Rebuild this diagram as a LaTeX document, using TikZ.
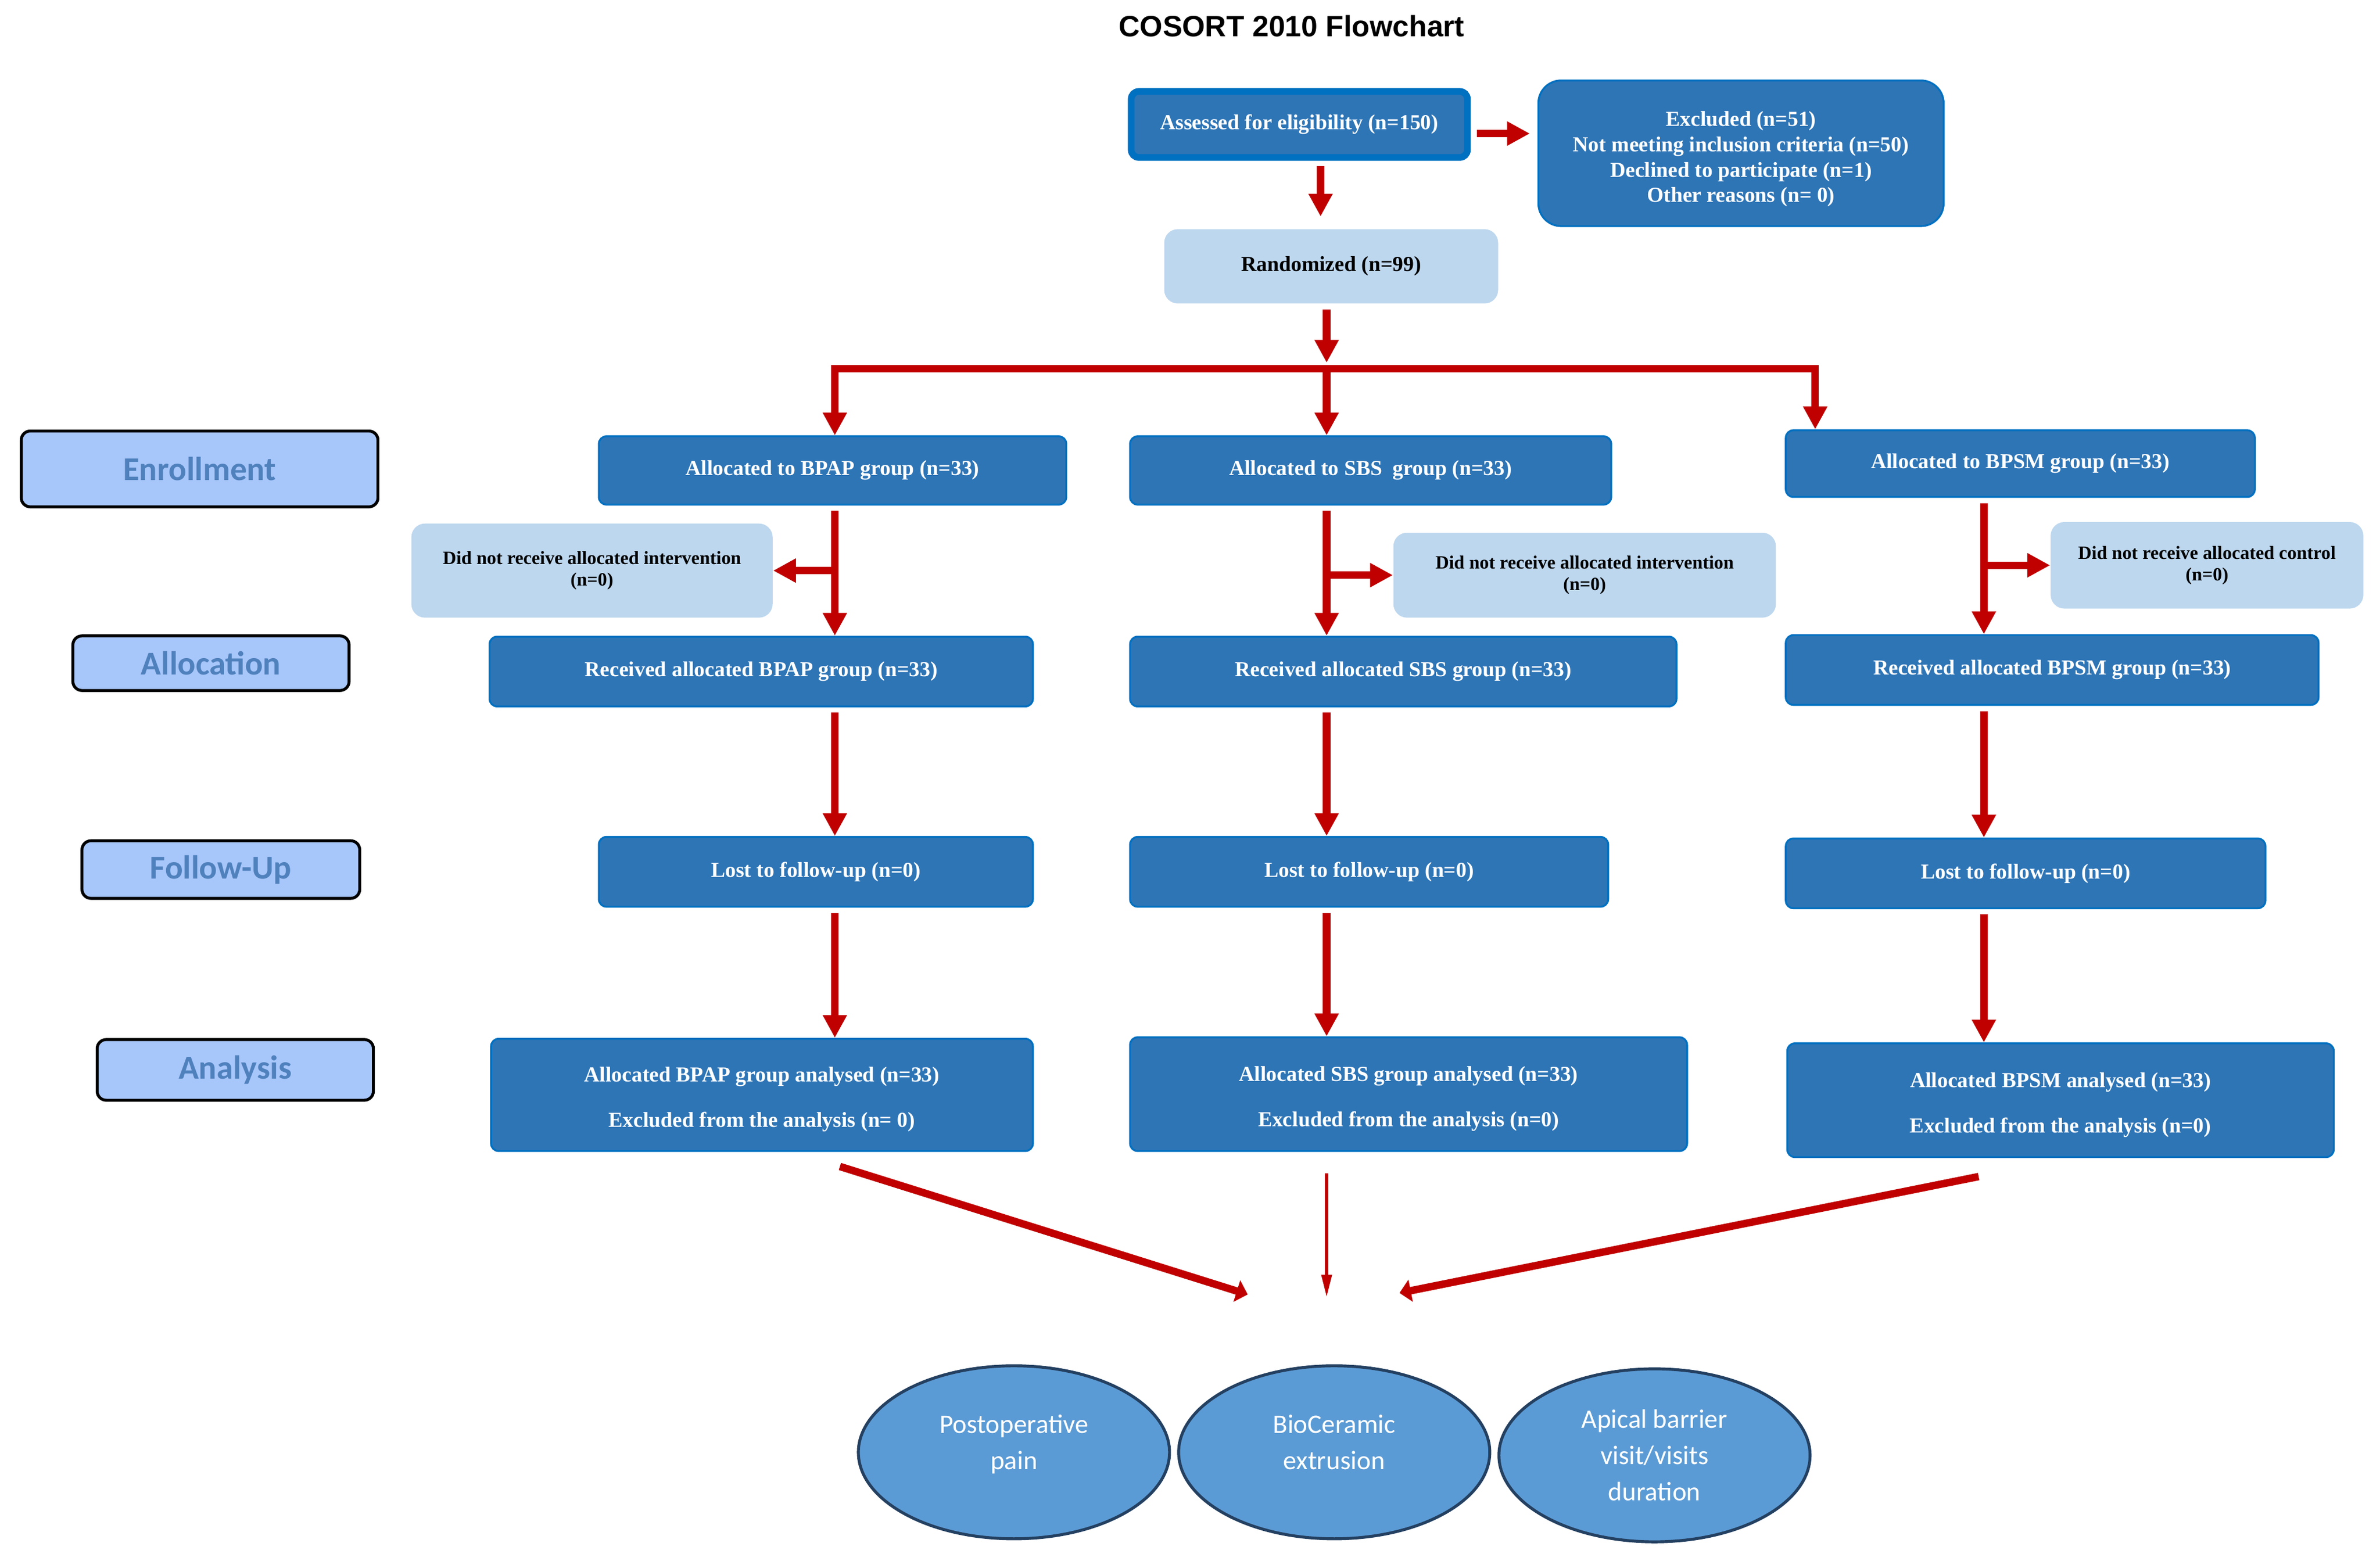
\documentclass[tikz,border=0pt]{standalone}
\usepackage{fontspec}
\setmainfont{Liberation Serif}
\newfontfamily\labelfont{Carlito}
\newfontfamily\titlefont{Liberation Sans}
\usetikzlibrary{arrows.meta,shapes.geometric,calc}

\definecolor{boxfill}{RGB}{46,117,182}
\definecolor{boxedge}{RGB}{0,112,192}
\definecolor{palefill}{RGB}{189,215,238}
\definecolor{phasefill}{RGB}{167,198,250}
\definecolor{phasetext}{RGB}{79,129,189}
\definecolor{ovalfill}{RGB}{91,155,213}
\definecolor{ovaledge}{RGB}{36,64,97}
\definecolor{arrowred}{RGB}{192,0,0}

\tikzset{
	flow/.style={draw=boxedge,fill=boxfill,line width=0.7pt,rounded corners=0.1cm,inner sep=0,text=white,align=center,font=\bfseries\fontsize{8}{9.5}\selectfont},
	pale/.style={fill=palefill,rounded corners=0.18cm,inner sep=0,align=center,font=\bfseries\fontsize{7}{8}\selectfont},
	phase/.style={draw=black,fill=phasefill,line width=1.1pt,rounded corners=0.12cm,inner sep=0,text=phasetext,font=\labelfont\bfseries\fontsize{12.5}{14}\selectfont},
	outcome/.style={ellipse,draw=ovaledge,fill=ovalfill,line width=1.1pt,inner sep=0,text=white,align=center,font=\labelfont\fontsize{10}{13.6}\selectfont},
	arr/.style={draw=arrowred,line width=2.8pt,shorten <=0.07cm,-{Triangle[width=0.3cm,length=0.3cm]}},
	diagarr/.style={arr,-{Triangle[width=0.29cm,length=0.15cm]}},
	narrowarr/.style={arr,line width=1.3pt,-{Triangle[width=0.13cm,length=0.3cm]}}
}

\begin{document}
\begin{tikzpicture}
	\useasboundingbox (0,0) rectangle (31.36,-20.57);
	\node[font=\titlefont\bfseries\fontsize{11}{13}\selectfont] (0) at (17.02,-0.34) {COSORT 2010 Flowchart};
	\node[flow,line width=2.5pt,minimum width=4.43cm,minimum height=0.87cm] (1) at (17.12,-1.64) {Assessed for eligibility (n=150)};
	\node[flow,rounded corners=0.3cm,minimum width=5.34cm,minimum height=1.92cm] (2) at (22.94,-2.02) {\rule{0pt}{10pt}Excluded (n=51)\\Not meeting inclusion criteria (n=50)\\Declined to participate (n=1)\\Other reasons (n= 0)};
	\node[pale,font=\bfseries\fontsize{8}{9.5}\selectfont,minimum width=4.4cm,minimum height=0.98cm] (3) at (17.54,-3.51) {Randomized (n=99)};
	\node[flow,minimum width=6.16cm,minimum height=0.9cm] (4) at (10.97,-6.2) {Allocated to BPAP group (n=33)};
	\node[flow,minimum width=6.34cm,minimum height=0.9cm] (5) at (18.06,-6.2) {Allocated to SBS~ group (n=33)};
	\node[flow,minimum width=6.18cm,minimum height=0.88cm] (6) at (26.62,-6.11) {Allocated to BPSM group (n=33)};
	\node[pale,minimum width=4.76cm,minimum height=1.24cm] (7) at (7.8,-7.52) {Did not receive allocated intervention\\(n=0)};
	\node[pale,minimum width=5.04cm,minimum height=1.12cm] (8) at (20.88,-7.58) {Did not receive allocated intervention\\(n=0)};
	\node[pale,minimum width=4.12cm,minimum height=1.14cm] (9) at (29.08,-7.45) {Did not receive allocated control\\(n=0)};
	\node[flow,minimum width=7.16cm,minimum height=0.92cm] (10) at (10.03,-8.85) {Received allocated BPAP group (n=33)};
	\node[flow,minimum width=7.2cm,minimum height=0.92cm] (11) at (18.49,-8.85) {Received allocated SBS group (n=33)};
	\node[flow,minimum width=7.02cm,minimum height=0.92cm] (12) at (27.04,-8.83) {Received allocated BPSM group (n=33)};
	\node[flow,minimum width=5.72cm,minimum height=0.92cm] (13) at (10.75,-11.49) {Lost to follow-up (n=0)};
	\node[flow,minimum width=6.3cm,minimum height=0.92cm] (14) at (18.04,-11.49) {Lost to follow-up (n=0)};
	\node[flow,minimum width=6.32cm,minimum height=0.92cm] (15) at (26.69,-11.51) {Lost to follow-up (n=0)};
	\node[flow,minimum width=7.14cm,minimum height=1.48cm] (16) at (10.04,-14.43) {\rule{0pt}{9pt}Allocated BPAP group analysed (n=33)\\[7.5pt]Excluded from the analysis (n= 0)};
	\node[flow,minimum width=7.34cm,minimum height=1.5cm] (17) at (18.56,-14.42) {\rule{0pt}{9pt}Allocated SBS group analysed (n=33)\\[7.5pt]Excluded from the analysis (n=0)};
	\node[flow,minimum width=7.2cm,minimum height=1.5cm] (18) at (27.15,-14.5) {\rule{0pt}{9pt}Allocated BPSM analysed (n=33)\\[7.5pt]Excluded from the analysis (n=0)};
	\node[phase,minimum width=4.7cm,minimum height=1.0cm] (19) at (2.63,-6.18) {Enrollment};
	\node[phase,minimum width=3.64cm,minimum height=0.72cm] (20) at (2.78,-8.74) {Allocation};
	\node[phase,minimum width=3.66cm,minimum height=0.76cm] (21) at (2.91,-11.46) {Follow-Up};
	\node[phase,minimum width=3.64cm,minimum height=0.8cm] (22) at (3.1,-14.1) {Analysis};
	\node[outcome,minimum width=4.1cm,minimum height=2.28cm] (23) at (13.36,-19.14) {Postoperative\\pain\rule[-7.8pt]{0pt}{7.8pt}};
	\node[outcome,minimum width=4.1cm,minimum height=2.28cm] (24) at (17.58,-19.14) {BioCeramic\\extrusion\rule[-7.8pt]{0pt}{7.8pt}};
	\node[outcome,minimum width=4.1cm,minimum height=2.28cm] (25) at (21.8,-19.18) {Apical barrier\\visit/visits\\duration};
	\coordinate (l) at (11.0,0);
	\coordinate (m) at (17.48,-4.86);
	\coordinate (r) at (26.14,0);
	\coordinate (t1) at (16.44,-17.06);
	\coordinate (t2) at (17.48,-17.1);
	\coordinate (t3) at (18.44,-17.04);
	\draw[arr] ($(1.east)+(0.01,-0.12)$) -- ($(1.east -| 2.west)+(-0.1,-0.12)$);
	\draw[arr] ($(1.south)+(0.28,0)$) -- ($(3.north)+(-0.14,0.16)$);
	\draw[arr] (m |- 3.south) -- ($(m)+(0,0.08)$);
	\draw[arr,shorten <=0pt] (m) -| (l |- 4.north);
	\draw[arr,shorten <=0pt] (m) -- (m |- 5.north);
	\draw[arr,shorten <=0pt] (m) -| ($(6.north west)+(0.4,0)$);
	\draw[arr] (l |- 4.south) -- (l |- 10.north);
	\draw[arr] (m |- 5.south) -- (m |- 11.north);
	\draw[arr] (r |- 6.south) -- (r |- 12.north);
	\draw[arr,shorten <=0pt] (l |- 7.east) -- (7.east);
	\draw[arr,shorten <=0pt] (m |- 8.west) -- (8.west);
	\draw[arr,shorten <=0pt] (r |- 9.west) -- (9.west);
	\draw[arr] (l |- 10.south) -- (l |- 13.north);
	\draw[arr] (m |- 11.south) -- (m |- 14.north);
	\draw[arr] (r |- 12.south) -- (r |- 15.north);
	\draw[arr] (l |- 13.south) -- (l |- 16.north);
	\draw[arr] (m |- 14.south) -- (m |- 17.north);
	\draw[arr] (r |- 15.south) -- (r |- 18.north);
	\draw[diagarr] ($(l |- 16.south)+(0,-0.17)$) -- (t1);
	\draw[narrowarr] ($(m |- 17.south)+(0,-0.21)$) -- (t2);
	\draw[diagarr] ($(r |- 18.south)+(0,-0.23)$) -- (t3);
\end{tikzpicture}
\end{document}
